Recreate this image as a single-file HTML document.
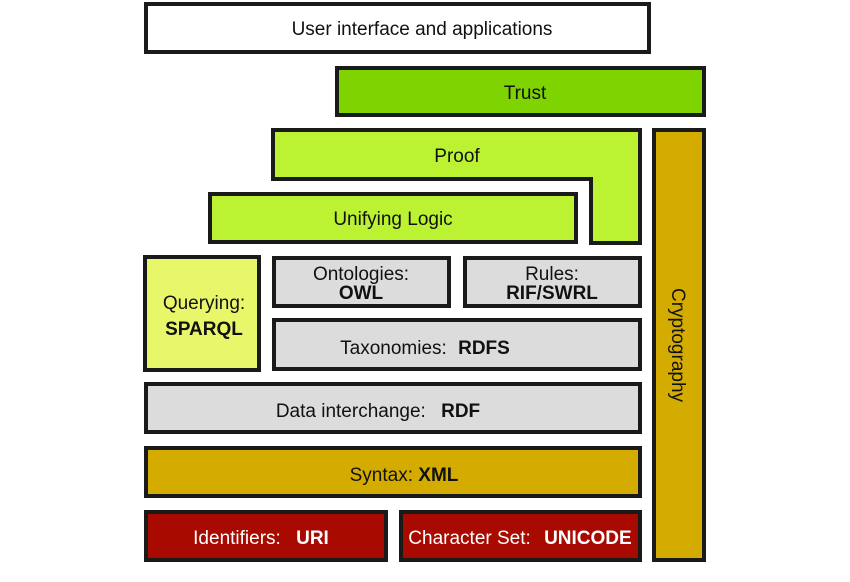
<!DOCTYPE html>
<html><head><meta charset="utf-8"><style>
html,body{margin:0;padding:0;background:#fff;width:850px;height:582px;overflow:hidden}
text{font-family:"Liberation Sans",Arial,sans-serif;font-size:19px;fill:#111}
.b{font-weight:bold}
.w{fill:#fff}
</style></head><body>
<svg width="850" height="582" viewBox="0 0 850 582" xmlns="http://www.w3.org/2000/svg">
<g stroke="#1a1a1a" stroke-width="4" stroke-linejoin="miter">
<rect x="146" y="4" width="503" height="48" fill="#fff"/>
<rect x="337" y="68" width="367" height="47" fill="#7ed300"/>
<polygon points="273,130 640,130 640,243 591,243 591,179 273,179" fill="#bbf232"/>
<rect x="210" y="194" width="366" height="48" fill="#bbf232"/>
<rect x="654" y="130" width="50" height="430" fill="#d4ac00"/>
<rect x="145" y="257" width="114" height="113" fill="#e8f76a"/>
<rect x="274" y="258" width="175" height="48" fill="#dcdcdc"/>
<rect x="465" y="258" width="175" height="48" fill="#dcdcdc"/>
<rect x="274" y="320" width="366" height="49" fill="#dcdcdc"/>
<rect x="146" y="384" width="494" height="48" fill="#dcdcdc"/>
<rect x="146" y="448" width="494" height="48" fill="#d4ac00"/>
<rect x="146" y="512" width="240" height="48" fill="#a80a00"/>
<rect x="401" y="512" width="239" height="48" fill="#a80a00"/>
</g>
<text x="422" y="35" text-anchor="middle">User interface and applications</text>
<text x="525" y="99" text-anchor="middle">Trust</text>
<text x="457" y="162" text-anchor="middle">Proof</text>
<text x="393" y="225" text-anchor="middle">Unifying Logic</text>
<text x="204" y="309" text-anchor="middle">Querying:</text>
<text x="204" y="335" text-anchor="middle" class="b">SPARQL</text>
<text x="361" y="280" text-anchor="middle">Ontologies:</text>
<text x="361" y="299" text-anchor="middle" class="b">OWL</text>
<text x="552" y="280" text-anchor="middle">Rules:</text>
<text x="552" y="299" text-anchor="middle" class="b">RIF/SWRL</text>
<text x="425" y="354" text-anchor="middle">Taxonomies: <tspan class="b" dx="6">RDFS</tspan></text>
<text x="378" y="417" text-anchor="middle">Data interchange: <tspan class="b" dx="10">RDF</tspan></text>
<text x="404" y="481" text-anchor="middle">Syntax: <tspan class="b">XML</tspan></text>
<text x="261" y="544" text-anchor="middle" class="w">Identifiers: <tspan class="b w" dx="10">URI</tspan></text>
<text x="520" y="544" text-anchor="middle" class="w">Character Set: <tspan class="b w" dx="8">UNICODE</tspan></text>
<text transform="translate(672,345) rotate(90)" text-anchor="middle">Cryptography</text>
</svg>
</body></html>
